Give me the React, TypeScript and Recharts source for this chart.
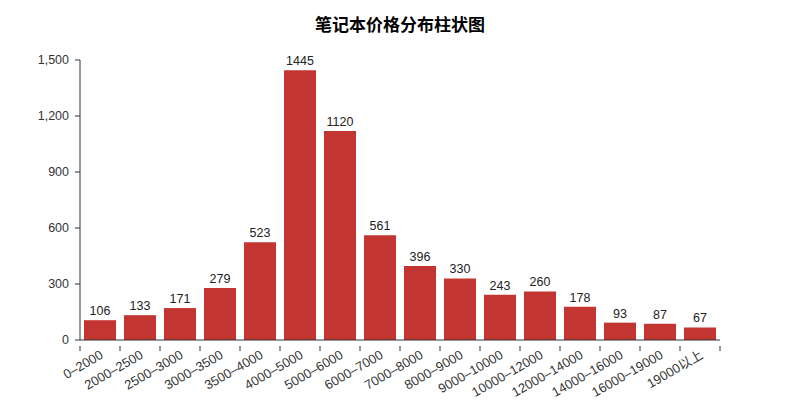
import { BarChart, Bar, XAxis, YAxis, LabelList } from 'recharts';

// price ranges (x categories)
const priceRanges = [
  '0–2000', '2000–2500', '2500–3000', '3000–3500', '3500–4000', '4000–5000',
  '5000–6000', '6000–7000', '7000–8000', '8000–9000', '9000–10000',
  '10000–12000', '12000–14000', '14000–16000', '16000–19000', '19000以上',
];

// number of laptops per range
const counts = [106, 133, 171, 279, 523, 1445, 1120, 561, 396, 330, 243, 260, 178, 93, 87, 67];

const yTicks = [0, 300, 600, 900, 1200, 1500];

const data = priceRanges.map((name, i) => ({ name, count: counts[i] }));

const FONT = '"Liberation Sans", "Noto Sans CJK SC", sans-serif';
const HALF_BAND = 20;

// rotated label, with tick marks on the category boundaries
const RotatedTick = (props: any) => {
  const { x, y, payload, index } = props;
  const last = index === priceRanges.length - 1;
  return (
    <g>
      <line x1={x - HALF_BAND} y1={y - 8} x2={x - HALF_BAND} y2={y - 3} stroke="#333" />
      {last && <line x1={x + HALF_BAND} y1={y - 8} x2={x + HALF_BAND} y2={y - 3} stroke="#333" />}
      <text
        x={x + 2}
        y={y}
        dy={4}
        textAnchor="end"
        fill="#333"
        fontSize={13}
        fontFamily={FONT}
        transform={`rotate(-30, ${x + 2}, ${y})`}
      >
        {payload.value}
      </text>
    </g>
  );
};

export default function App() {
  return (
    <div style={{ position: 'absolute', left: 0, top: 0, width: 800, height: 400, background: '#fff' }}>
      <div
        style={{
          position: 'absolute',
          top: 11,
          width: 800,
          textAlign: 'center',
          fontFamily: FONT,
          fontWeight: 'bold',
          fontSize: 17,
          color: '#000',
        }}
      >
        笔记本价格分布柱状图
      </div>
      <BarChart
        width={800}
        height={400}
        data={data}
        margin={{ top: 60, right: 80, left: 0, bottom: 0 }}
        barCategoryGap="10%"
      >
        <XAxis
          dataKey="name"
          interval={0}
          height={60}
          tickLine={false}
          axisLine={{ stroke: '#333' }}
          tick={<RotatedTick />}
          tickMargin={8}
        />
        <YAxis
          width={80}
          domain={[0, 1500]}
          ticks={yTicks}
          tickFormatter={(v: number) => v.toLocaleString('en-US')}
          tick={{ fontSize: 12.5, fill: '#333', fontFamily: FONT }}
          axisLine={{ stroke: '#333' }}
          tickLine={{ stroke: '#333' }}
          tickSize={5}
          tickMargin={6}
        />
        <Bar dataKey="count" fill="#c23531" isAnimationActive={false}>
          <LabelList dataKey="count" position="top" offset={5} fill="#222" fontSize={12.5} fontFamily={FONT} />
        </Bar>
      </BarChart>
    </div>
  );
}
